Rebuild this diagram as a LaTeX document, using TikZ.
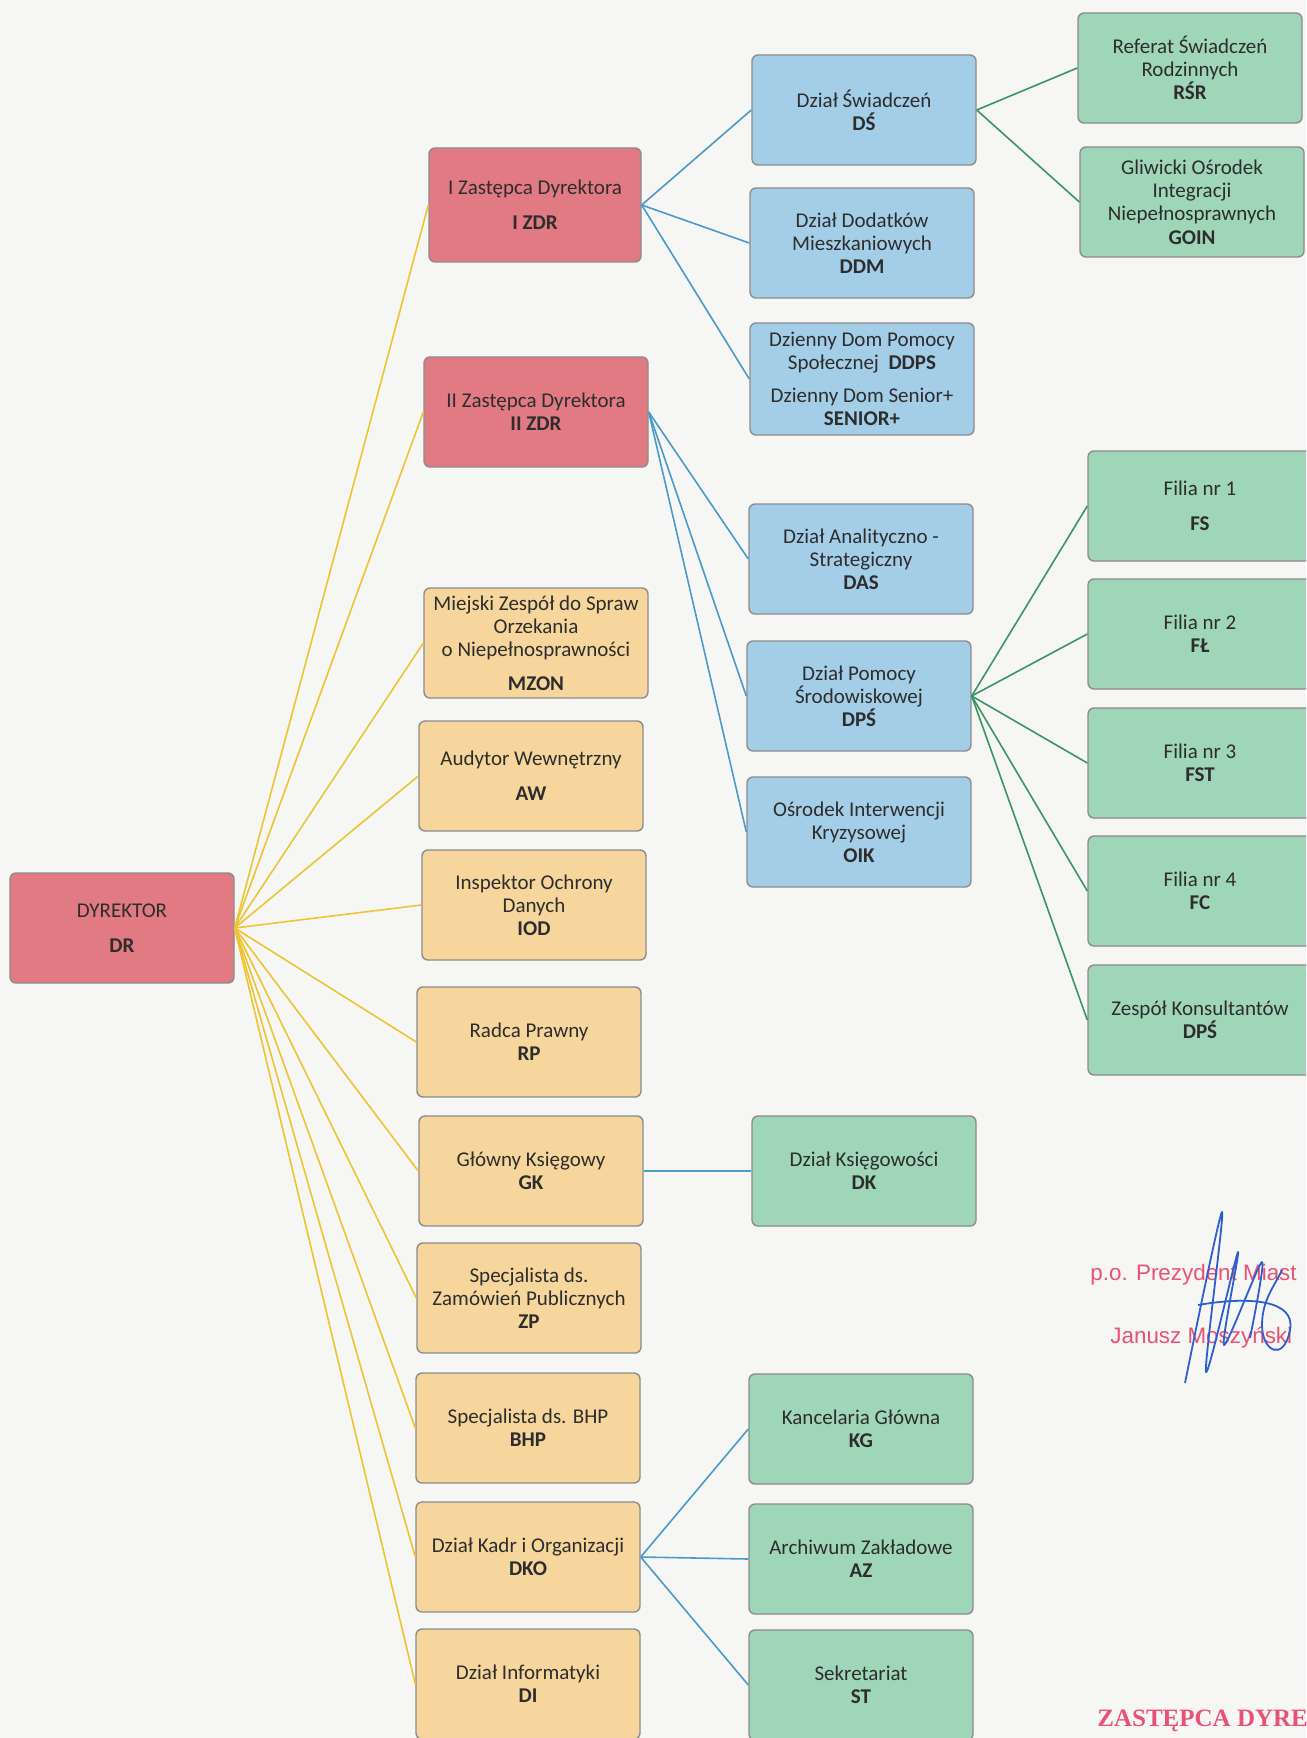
\documentclass[tikz,border=0pt]{standalone}
\usepackage{fontspec}
\setmainfont{Carlito}
\newfontfamily\stampfont{Liberation Sans}
\newfontfamily\stampserif{Liberation Serif}

\definecolor{paper}{RGB}{246,246,245}
\definecolor{redfill}{RGB}{226,122,132}
\definecolor{sandfill}{RGB}{246,214,156}
\definecolor{bluefill}{RGB}{164,206,232}
\definecolor{greenfill}{RGB}{160,214,184}
\definecolor{yellowline}{RGB}{238,196,50}
\definecolor{blueline}{RGB}{75,155,200}
\definecolor{greenline}{RGB}{60,150,100}
\definecolor{stampred}{RGB}{232,82,115}
\definecolor{inkblue}{RGB}{45,95,205}
\definecolor{boxtext}{RGB}{45,45,45}

\begin{document}
\begin{tikzpicture}[x=0.5pt,y=-0.5pt,
  font=\fontsize{10.5}{11.6}\selectfont,
  unit/.style={draw=black!45, line width=0.7pt, rounded corners=3pt,
    minimum width=112pt, minimum height=55pt, align=center,
    text=boxtext, inner sep=2pt},
  chief/.style={unit, fill=redfill},
  staff/.style={unit, fill=sandfill},
  dept/.style={unit, fill=bluefill},
  team/.style={unit, fill=greenfill},
  yellowlink/.style={yellowline, line width=0.8pt},
  bluelink/.style={blueline, line width=0.8pt},
  greenlink/.style={greenline, line width=0.8pt},
  stamp/.style={stampred, inner sep=0pt, anchor=base west,
    font=\stampfont\fontsize{11.2}{13}\selectfont}]

  \fill[paper] (0,0) rectangle (1306,1738);
  \useasboundingbox (0,0) rectangle (1306,1738);
  \clip (0,0) rectangle (1306,1738);

  % dyrekcja
  \node[chief] (dr) at (122,928) {DYREKTOR\\[6pt]\textbf{DR}};
  \node[chief, minimum width=106pt, minimum height=57pt] (izdr) at (535,205)
    {I Zastępca Dyrektora\\[6pt]\textbf{I ZDR}};
  \node[chief] (iizdr) at (536,412) {II Zastępca Dyrektora\\\textbf{II ZDR}};

  % stanowiska podlegle dyrektorowi
  \node[staff] (mzon) at (536,643)
    {Miejski Zespół do Spraw\\Orzekania\\o Niepełnosprawności\\[5pt]\textbf{MZON}};
  \node[staff] (aw)  at (531,776)  {Audytor Wewnętrzny\\[6pt]\textbf{AW}};
  \node[staff] (iod) at (534,905)  {Inspektor Ochrony\\Danych\\\textbf{IOD}};
  \node[staff] (rp)  at (529,1042) {Radca Prawny\\\textbf{RP}};
  \node[staff] (gk)  at (531,1171) {Główny Księgowy\\\textbf{GK}};
  \node[staff] (zp)  at (529,1298) {Specjalista ds.\\Zamówień Publicznych\\\textbf{ZP}};
  \node[staff] (bhp) at (528,1428) {Specjalista ds. BHP\\\textbf{BHP}};
  \node[staff] (dko) at (528,1557) {Dział Kadr i Organizacji\\\textbf{DKO}};
  \node[staff] (di)  at (528,1684) {Dział Informatyki\\\textbf{DI}};

  % dzialy
  \node[dept] (ds)   at (864,110) {Dział Świadczeń\\\textbf{DŚ}};
  \node[dept] (ddm)  at (862,243) {Dział Dodatków\\Mieszkaniowych\\\textbf{DDM}};
  \node[dept, minimum height=56pt] (ddps) at (862,379)
    {Dzienny Dom Pomocy\\Społecznej\ \ \textbf{DDPS}\\[5pt]Dzienny Dom Senior+\\\textbf{SENIOR+}};
  \node[dept] (das)  at (861,559) {Dział Analityczno -\\Strategiczny\\\textbf{DAS}};
  \node[dept] (dps)  at (859,696) {Dział Pomocy\\Środowiskowej\\\textbf{DPŚ}};
  \node[dept] (oik)  at (859,832) {Ośrodek Interwencji\\Kryzysowej\\\textbf{OIK}};

  \node[team] (dk) at (864,1171) {Dział Księgowości\\\textbf{DK}};
  \node[team] (kg) at (861,1429) {Kancelaria Główna\\\textbf{KG}};
  \node[team] (az) at (861,1559) {Archiwum Zakładowe\\\textbf{AZ}};
  \node[team] (st) at (861,1685) {Sekretariat\\\textbf{ST}};

  % referaty i filie
  \node[team] (rsr)  at (1190,68)  {Referat Świadczeń\\Rodzinnych\\\textbf{RŚR}};
  \node[team] (goin) at (1192,202) {Gliwicki Ośrodek\\Integracji\\Niepełnosprawnych\\\textbf{GOIN}};
  \node[team] (fs)  at (1200,506)  {Filia nr 1\\[6pt]\textbf{FS}};
  \node[team] (fl)  at (1200,634)  {Filia nr 2\\\textbf{FŁ}};
  \node[team] (fst) at (1200,763)  {Filia nr 3\\\textbf{FST}};
  \node[team] (fc)  at (1200,891)  {Filia nr 4\\\textbf{FC}};
  \node[team] (zk)  at (1200,1020) {Zespół Konsultantów\\\textbf{DPŚ}};

  % polaczenia
  \foreach \n in {izdr,iizdr,mzon,aw,iod,rp,gk,zp,bhp,dko,di}
    \draw[yellowlink] (dr.east) -- (\n.west);

  \foreach \n in {ds,ddm,ddps}
    \draw[bluelink] (izdr.east) -- (\n.west);
  \foreach \n in {das,dps,oik}
    \draw[bluelink] (iizdr.east) -- (\n.west);
  \draw[bluelink] (gk.east) -- (dk.west);
  \foreach \n in {kg,az,st}
    \draw[bluelink] (dko.east) -- (\n.west);

  \foreach \n in {rsr,goin}
    \draw[greenlink] (ds.east) -- (\n.west);
  \foreach \n in {fs,fl,fst,fc,zk}
    \draw[greenlink] (dps.east) -- (\n.west);

  % pieczatki i podpis
  \node[stamp] (prez) at (1090,1280) {p.o. Prezydent Miast};
  \node[stamp] (jm)   at (1110,1343) {Janusz Moszyński};
  \node[stamp, font=\stampserif\bfseries\fontsize{12.5}{14}\selectfont] (zdyr)
    at (1097,1726) {ZASTĘPCA DYRE};

  \draw[inkblue, line width=0.9pt, line join=round]
    plot[smooth, tension=0.5] coordinates {(1185,1383) (1222,1212) (1206,1372)
      (1238,1252) (1224,1345) (1262,1262) (1250,1338)};
  \draw[inkblue, line width=0.9pt]
    (1198,1305) .. controls (1250,1296) and (1296,1300) .. (1290,1330)
    .. controls (1284,1362) and (1262,1352) .. (1262,1325)
    .. controls (1262,1300) and (1275,1285) .. (1282,1270);
\end{tikzpicture}
\end{document}
